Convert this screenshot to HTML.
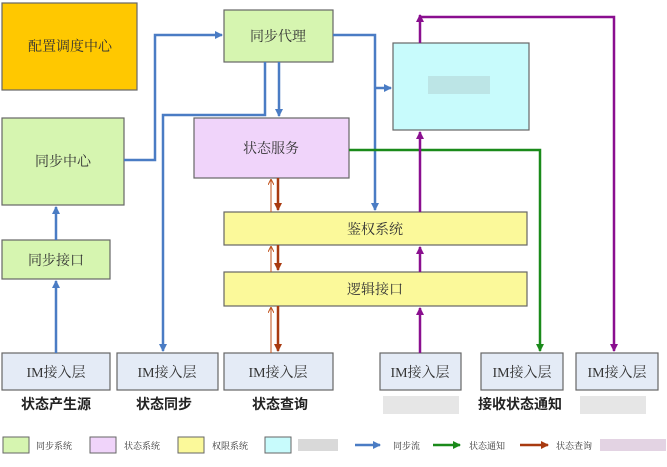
<!DOCTYPE html>
<html><head><meta charset="utf-8"><style>
html,body{margin:0;padding:0;background:#fff;}
svg{display:block;font-family:"Liberation Serif","Noto Serif CJK SC","Noto Sans CJK SC",serif;}
</style></head><body>
<svg width="667" height="467" viewBox="0 0 667 467" xmlns="http://www.w3.org/2000/svg">
<defs>
<marker id="ab" markerWidth="8" markerHeight="8" refX="7" refY="4" orient="auto" markerUnits="userSpaceOnUse"><path d="M0,0 L8,4 L0,8 z" fill="#4a7cc4"/></marker>
<marker id="ap" markerWidth="8" markerHeight="8" refX="7" refY="4" orient="auto" markerUnits="userSpaceOnUse"><path d="M0,0 L8,4 L0,8 z" fill="#8a0f8f"/></marker>
<marker id="ag" markerWidth="8" markerHeight="8" refX="7" refY="4" orient="auto" markerUnits="userSpaceOnUse"><path d="M0,0 L8,4 L0,8 z" fill="#1a8a1a"/></marker>
<marker id="ar" markerWidth="8" markerHeight="8" refX="7" refY="4" orient="auto" markerUnits="userSpaceOnUse"><path d="M0,0 L8,4 L0,8 z" fill="#a83a10"/></marker>
<marker id="ar2" markerWidth="6" markerHeight="6" refX="5" refY="3" orient="auto" markerUnits="userSpaceOnUse"><path d="M0,0 L6,3 L0,6" fill="none" stroke="#c0501a" stroke-width="1"/></marker>
</defs>
<g stroke="#666" stroke-width="1.2">
<rect x="2" y="3" width="135" height="87" fill="#ffc800"/>
<rect x="224" y="10" width="109" height="52" fill="#d6f5b0"/>
<rect x="393" y="43" width="136" height="87" fill="#c8fbfc"/>
<rect x="2" y="118" width="122" height="87" fill="#d6f5b0"/>
<rect x="194" y="118" width="155" height="60" fill="#f0d4fa"/>
<rect x="224" y="212" width="303" height="33" fill="#fbf99a"/>
<rect x="224" y="272" width="303" height="34" fill="#fbf99a"/>
<rect x="2" y="240" width="108" height="39" fill="#d6f5b0"/>
<rect x="2" y="353" width="108" height="37" fill="#e4ebf6"/>
<rect x="117" y="353" width="101" height="37" fill="#e4ebf6"/>
<rect x="224" y="353" width="109" height="37" fill="#e4ebf6"/>
<rect x="380" y="353" width="81" height="37" fill="#e4ebf6"/>
<rect x="481" y="353" width="82" height="37" fill="#e4ebf6"/>
<rect x="576" y="353" width="82" height="37" fill="#e4ebf6"/>
</g>
<g font-size="14" fill="#333" text-anchor="middle">
<text x="70" y="51">配置调度中心</text>
<text x="278" y="41">同步代理</text>
<text x="63" y="166">同步中心</text>
<text x="271" y="153">状态服务</text>
<text x="375" y="234">鉴权系统</text>
<text x="375" y="294">逻辑接口</text>
<text x="56" y="265">同步接口</text>
<text x="56" y="377">IM接入层</text>
<text x="167" y="377">IM接入层</text>
<text x="278" y="377">IM接入层</text>
<text x="420" y="377">IM接入层</text>
<text x="522" y="377">IM接入层</text>
<text x="617" y="377">IM接入层</text>
</g>
<g font-size="14" font-weight="bold" fill="#222" text-anchor="middle" font-family="'Liberation Sans','Noto Sans CJK SC',sans-serif">
<text x="56" y="409">状态产生源</text>
<text x="164" y="409">状态同步</text>
<text x="280" y="409">状态查询</text>
<text x="520" y="409">接收状态通知</text>
</g>
<rect x="383" y="396" width="76" height="18" fill="#dcdcdc" opacity="0.7"/>
<rect x="580" y="396" width="66" height="18" fill="#dcdcdc" opacity="0.7"/>
<rect x="428" y="76" width="62" height="18" fill="#b0d0d0" opacity="0.5"/>
<g fill="none" stroke-width="2.5">
<path d="M124,160 H155 V35 H222" stroke="#4a7cc4" marker-end="url(#ab)"/>
<path d="M265,62 V115 H163 V351" stroke="#4a7cc4" marker-end="url(#ab)"/>
<path d="M279,62 V116" stroke="#4a7cc4" marker-end="url(#ab)"/>
<path d="M333,35 H375 V210" stroke="#4a7cc4" marker-end="url(#ab)"/>
<path d="M375,88 H391" stroke="#4a7cc4" marker-end="url(#ab)"/>
<path d="M56,353 V281" stroke="#4a7cc4" marker-end="url(#ab)"/>
<path d="M56,240 V207" stroke="#4a7cc4" marker-end="url(#ab)"/>
<path d="M349,150 H540 V351" stroke="#1a8a1a" marker-end="url(#ag)"/>
<path d="M420,353 V308" stroke="#8a0f8f" marker-end="url(#ap)"/>
<path d="M420,272 V247" stroke="#8a0f8f" marker-end="url(#ap)"/>
<path d="M420,212 V132" stroke="#8a0f8f" marker-end="url(#ap)"/>
<path d="M420,43 V15" stroke="#8a0f8f" marker-end="url(#ap)"/>
<path d="M420,17 H614 V351" stroke="#8a0f8f" marker-end="url(#ap)"/>
<path d="M278,178 V210" stroke="#a83a10" marker-end="url(#ar)"/>
<path d="M278,245 V270" stroke="#a83a10" marker-end="url(#ar)"/>
<path d="M278,306 V351" stroke="#a83a10" marker-end="url(#ar)"/>
</g>
<g fill="none" stroke="#c0501a" stroke-width="1">
<path d="M271,212 V180" marker-end="url(#ar2)"/>
<path d="M271,272 V247" marker-end="url(#ar2)"/>
<path d="M271,353 V308" marker-end="url(#ar2)"/>
</g>
<g stroke="#666" stroke-width="1">
<rect x="3" y="437" width="26" height="16" fill="#d6f5b0"/>
<rect x="90" y="437" width="26" height="16" fill="#f0d4fa"/>
<rect x="178" y="437" width="26" height="16" fill="#fbf99a"/>
<rect x="265" y="437" width="26" height="16" fill="#c8fbfc"/>
</g>
<g font-size="9" fill="#333">
<text x="36" y="449">同步系统</text>
<text x="124" y="449">状态系统</text>
<text x="212" y="449">权限系统</text>
<text x="393" y="449">同步流</text>
<text x="469" y="449">状态通知</text>
<text x="556" y="449">状态查询</text>
</g>
<rect x="298" y="439" width="40" height="12" fill="#d0d0d0" opacity="0.8"/>
<rect x="600" y="439" width="66" height="12" fill="#dcc8dc" opacity="0.8"/>
<g fill="none" stroke-width="2.5">
<path d="M355,445 H380" stroke="#4a7cc4" marker-end="url(#ab)"/>
<path d="M433,445 H460" stroke="#1a8a1a" marker-end="url(#ag)"/>
<path d="M520,445 H548" stroke="#a83a10" marker-end="url(#ar)"/>
</g>
</svg>
</body></html>
